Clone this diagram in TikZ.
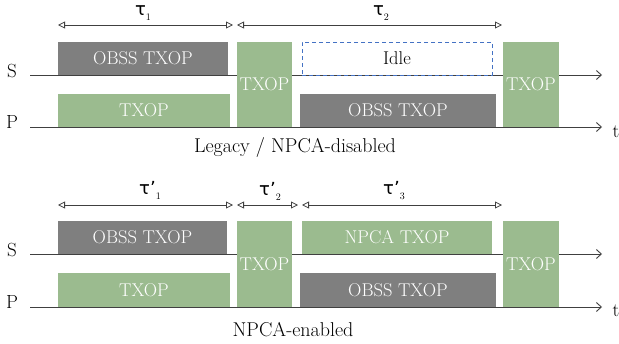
\documentclass[tikz,border=0pt]{standalone}
\usepackage{fontspec}
\newfontfamily\taufont{DejaVu Sans}
\usetikzlibrary{arrows.meta}
\definecolor{txgreen}{HTML}{9BBB8F}
\definecolor{txgray}{HTML}{7F7F7F}
\definecolor{idleblue}{HTML}{4472C4}
\definecolor{linegray}{HTML}{404040}
\newcommand{\taulab}[2]{{\taufont\fontsize{18}{18}\selectfont τ#1}\raisebox{-5pt}{\fontsize{10}{10}\selectfont #2}}
\begin{document}
\begin{tikzpicture}[x=1pt,y=-1pt,
  boxbase/.style={anchor=north west, inner sep=0pt, outer sep=0pt, font=\fontsize{18.5}{18.5}\selectfont},
  gbox/.style={boxbase, fill=txgreen, text=white},
  obox/.style={boxbase, fill=txgray, text=white},
  ibox/.style={boxbase, draw=idleblue, dashed, dash pattern=on 4pt off 3pt, line width=0.9pt, fill=white, text=black},
  axisline/.style={draw=linegray, line width=0.9pt, -{Straight Barb[length=5pt,width=9pt]}},
  spanarrow/.style={draw=linegray, line width=0.8pt, {Triangle[open,length=7pt,width=7pt]}-{Triangle[open,length=7pt,width=7pt]}},
  chan/.style={font=\fontsize{19}{19}\selectfont, inner sep=0pt},
  captext/.style={font=\fontsize{20}{20}\selectfont, inner sep=0pt, anchor=base},
  taus/.style={inner sep=0pt}
]
\useasboundingbox (0,0) rectangle (619,343);

% ---------- top: Legacy ----------
\coordinate (sA0) at (30,75);  \coordinate (sA1) at (602,75);
\coordinate (pA0) at (30,127); \coordinate (pA1) at (602,127);
\draw[axisline] (sA0) -- (sA1);
\draw[axisline] (pA0) -- (pA1);
\node[chan] (sA) at (12,71) {S};
\node[chan] (pA) at (12,122) {P};
\node[chan] (tA) at (616,132) {t};

\node[obox, minimum width=170pt, minimum height=33pt] (obssA1) at (58,42) {OBSS TXOP};
\node[gbox, minimum width=172pt, minimum height=33pt] (txA1) at (58,94) {TXOP};
\node[gbox, minimum width=55pt, minimum height=85pt] (txA2) at (237,42) {TXOP};
\node[ibox, minimum width=190pt, minimum height=33pt] (idleA) at (302,42) {Idle};
\node[obox, minimum width=196pt, minimum height=33pt] (obssA2) at (300,94) {OBSS TXOP};
\node[gbox, minimum width=56pt, minimum height=85pt] (txA3) at (503,42) {TXOP};

\coordinate (a1) at (58,25);  \coordinate (a2) at (233,25);
\coordinate (a3) at (237,25); \coordinate (a4) at (502,25);
\draw[spanarrow] (a1) -- (a2);
\draw[spanarrow] (a3) -- (a4);
\node[taus] (tau1) at (143,13) {\taulab{}{1}};
\node[taus] (tau2) at (381,13) {\taulab{}{2}};

\node[captext] (capA) at (295,152) {Legacy / NPCA-disabled};

% ---------- bottom: NPCA-enabled ----------
\coordinate (sB0) at (30,254);  \coordinate (sB1) at (602,254);
\coordinate (pB0) at (30,307); \coordinate (pB1) at (602,307);
\draw[axisline] (sB0) -- (sB1);
\draw[axisline] (pB0) -- (pB1);
\node[chan] (sB) at (12,250) {S};
\node[chan] (pB) at (12,302) {P};
\node[chan] (tB) at (616,311) {t};

\node[obox, minimum width=169pt, minimum height=33pt] (obssB1) at (58,221) {OBSS TXOP};
\node[gbox, minimum width=172pt, minimum height=34pt] (txB1) at (58,273) {TXOP};
\node[gbox, minimum width=55pt, minimum height=86pt] (txB2) at (237,221) {TXOP};
\node[gbox, minimum width=190pt, minimum height=33pt] (npcaB) at (302,221) {NPCA TXOP};
\node[obox, minimum width=196pt, minimum height=34pt] (obssB2) at (300,273) {OBSS TXOP};
\node[gbox, minimum width=56pt, minimum height=86pt] (txB3) at (503,221) {TXOP};

\coordinate (b1) at (58,205);  \coordinate (b2) at (233,205);
\coordinate (b3) at (237,205); \coordinate (b4) at (298,205);
\coordinate (b5) at (302,205); \coordinate (b6) at (502,205);
\draw[spanarrow] (b1) -- (b2);
\draw[spanarrow] (b3) -- (b4);
\draw[spanarrow] (b5) -- (b6);
\node[taus] (tauB1) at (150,190) {\taulab{’}{1}};
\node[taus] (tauB2) at (270,191) {\taulab{’}{2}};
\node[taus] (tauB3) at (394,191) {\taulab{’}{3}};

\node[captext] (capB) at (293,336) {NPCA-enabled};
\end{tikzpicture}
\end{document}
